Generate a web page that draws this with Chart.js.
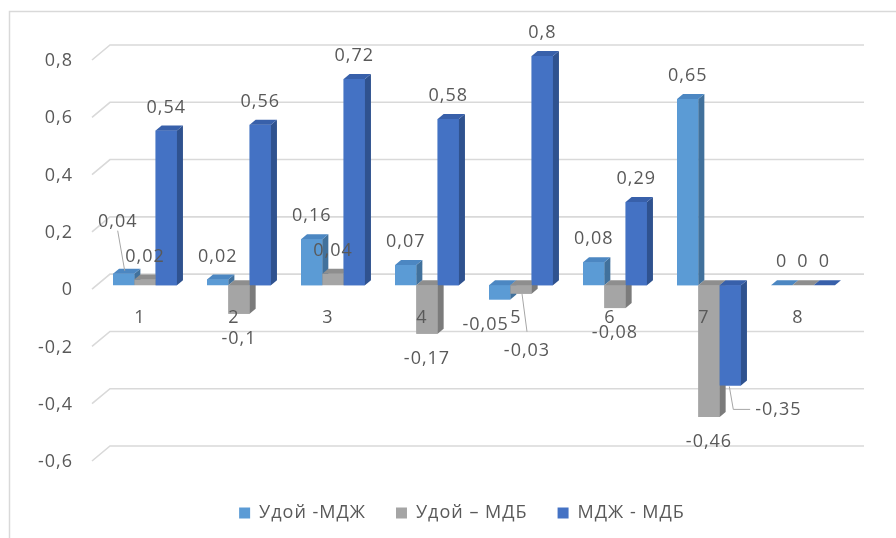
<!DOCTYPE html>
<html>
<head>
<meta charset="utf-8">
<script src="https://cdn.jsdelivr.net/npm/chart.js@4.4.1/dist/chart.umd.min.js"></script>
<style>
  html, body { margin: 0; padding: 0; background: #ffffff; }
  canvas { display: block; }
</style>
</head>
<body>
<canvas id="chart" width="896" height="538"></canvas>
<script>
// Categories and series values
const categories = ['1', '2', '3', '4', '5', '6', '7', '8'];
const udoiMdzh = [0.04, 0.02, 0.16, 0.07, -0.05, 0.08, 0.65, 0];
const udoiMdb  = [0.02, -0.1, 0.04, -0.17, -0.03, -0.08, -0.46, 0];
const mdzhMdb  = [0.54, 0.56, 0.72, 0.58, 0.8, 0.29, -0.35, 0];
const seriesNames = ['Удой -МДЖ', 'Удой – МДБ', 'МДЖ - МДБ'];

// Value axis range
const yMin = -0.6;
const yMax = 0.8;
const yStep = 0.2;

// Appearance
const FONT = 'Open Sans';
const TEXT = '#595959';
const GRID = '#D9D9D9';
const FRONT = ['#5B9BD5', '#A5A5A5', '#4472C4'];
const SIDE  = ['#41719C', '#7B7B7B', '#2F528F'];
const TOPC  = ['#4C87C2', '#8E8E8E', '#3860AA'];
const DX = 6, DY = 5;   // extrusion depth of the bars
const LEGEND_SHIFT = 37;

// Data labels that sit away from their bar, keyed "dataset:index"
const labelTweaks = {
  '0:0': { dx: -6, dy: -29, leader: 'straight' },
  '0:4': { dx: -14, dy: 0 },
  '1:4': { dx: 6, dy: 32, leader: 'straight' },
  '2:6': { dx: 48, dy: -1, leader: 'elbow' }
};

const fmt = v => {
  const r = Math.round(v * 100) / 100;
  return r === 0 ? '0' : String(r).replace('.', ',');
};

const textSpacing = {
  id: 'textSpacing',
  beforeLayout(chart) { chart.ctx.letterSpacing = '1px'; },
  afterLayout(chart) {
    // centre the legend under the plot rather than under the whole canvas
    const lg = chart.legend;
    if (lg) { lg.left += LEGEND_SHIFT; lg.right += LEGEND_SHIFT; }
  },
  beforeDraw(chart) { chart.ctx.letterSpacing = '1px'; }
};

const frame = {
  id: 'frame',
  beforeDraw(chart) {
    const ctx = chart.ctx;
    ctx.save();
    ctx.strokeStyle = GRID;
    ctx.lineWidth = 1.5;
    ctx.strokeRect(9.5, 11.5, 1200, 1200);
    ctx.restore();
  }
};

// Back-wall gridlines with a slanted lead-in on the left
const wallGrid = {
  id: 'wallGrid',
  beforeDatasetsDraw(chart) {
    const ctx = chart.ctx, ys = chart.scales.y, ca = chart.chartArea;
    ctx.save();
    ctx.strokeStyle = GRID;
    ctx.lineWidth = 1.6;
    ys.ticks.forEach(t => {
      const y = ys.getPixelForValue(t.value);
      ctx.beginPath();
      ctx.moveTo(ca.left - 6, y + 4);
      ctx.lineTo(ca.left + 12, y - 11);
      ctx.lineTo(ca.right + 14, y - 11);
      ctx.stroke();
    });
    ctx.restore();
  }
};

// Paint the bars left to right within each group: front face, then side and top
const extrude = {
  id: 'extrude',
  afterDatasetsDraw(chart) {
    const ctx = chart.ctx;
    chart.data.datasets.forEach((ds, i) => {
      const meta = chart.getDatasetMeta(i);
      meta.data.forEach(bar => {
        bar.draw(ctx);
        const p = bar.getProps(['x', 'y', 'base', 'width'], true);
        const l = p.x - p.width / 2, r = p.x + p.width / 2;
        const top = Math.min(p.y, p.base), bottom = Math.max(p.y, p.base);
        ctx.save();
        ctx.fillStyle = SIDE[i];
        ctx.beginPath();
        ctx.moveTo(r, top);
        ctx.lineTo(r + DX, top - DY);
        ctx.lineTo(r + DX, bottom - DY);
        ctx.lineTo(r, bottom);
        ctx.closePath();
        ctx.fill();
        ctx.fillStyle = TOPC[i];
        ctx.beginPath();
        ctx.moveTo(l, top);
        ctx.lineTo(l + DX, top - DY);
        ctx.lineTo(r + DX, top - DY);
        ctx.lineTo(r, top);
        ctx.closePath();
        ctx.fill();
        ctx.restore();
      });
    });
  }
};

// Category names near the zero plane and value labels on the bars
const annotations = {
  id: 'annotations',
  afterDatasetsDraw(chart) {
    const ctx = chart.ctx, xs = chart.scales.x, ys = chart.scales.y;
    const y0 = ys.getPixelForValue(0);
    ctx.save();
    ctx.font = '18px "' + FONT + '"';
    ctx.fillStyle = TEXT;
    ctx.textAlign = 'center';
    ctx.textBaseline = 'middle';
    categories.forEach((c, k) => {
      ctx.fillText(c, xs.getPixelForValue(k) - 5, y0 + 33);
    });

    chart.data.datasets.forEach((ds, i) => {
      const meta = chart.getDatasetMeta(i);
      meta.data.forEach((bar, k) => {
        const v = ds.data[k];
        const p = bar.getProps(['x', 'y', 'base'], true);
        const tw = labelTweaks[i + ':' + k] || { dx: 0, dy: 0 };
        const lx = p.x + tw.dx;
        const ly = (v >= 0 ? p.y - 23 : p.y + 25) + tw.dy;
        if (tw.leader) {
          ctx.save();
          ctx.strokeStyle = '#A6A6A6';
          ctx.lineWidth = 1;
          ctx.beginPath();
          if (tw.leader === 'straight') {
            if (v >= 0) {
              ctx.moveTo(lx, ly + 9);
              ctx.lineTo(p.x + 1, p.y - 3);
            } else {
              ctx.moveTo(p.x + 1, p.y);
              ctx.lineTo(lx, ly - 19);
            }
          } else {
            const w = ctx.measureText(fmt(v)).width;
            ctx.moveTo(p.x - 1, p.y + 1);
            ctx.lineTo(p.x + 3, ly);
            ctx.lineTo(lx - w / 2 - 5, ly);
          }
          ctx.stroke();
          ctx.restore();
        }
        ctx.fillText(fmt(v), lx, ly);
      });
    });
    ctx.restore();
  }
};

const seriesData = [udoiMdzh, udoiMdb, mdzhMdb];

new Chart(document.getElementById('chart'), {
  type: 'bar',
  data: {
    labels: categories,
    datasets: seriesData.map((d, i) => ({
      label: seriesNames[i],
      data: d,
      backgroundColor: FRONT[i],
      borderWidth: 0,
      categoryPercentage: 0.68,
      barPercentage: 1
    }))
  },
  options: {
    responsive: false,
    animation: false,
    devicePixelRatio: 1,
    layout: { padding: { top: 56, right: 46, left: 0, bottom: 6 } },
    plugins: {
      tooltip: { enabled: false },
      legend: {
        position: 'bottom',
        labels: {
          boxWidth: 11,
          boxHeight: 11,
          padding: 30,
          color: TEXT,
          font: { family: FONT, size: 18 }
        }
      }
    },
    scales: {
      x: {
        display: true,
        grid: { display: false, drawTicks: false },
        border: { display: false },
        ticks: { display: false },
        afterFit: s => { s.height = 17; }
      },
      y: {
        min: yMin,
        max: yMax,
        grid: { display: false, drawTicks: false },
        border: { display: false },
        ticks: {
          stepSize: yStep,
          padding: 25,
          labelOffset: 5,
          color: TEXT,
          font: { family: FONT, size: 18 },
          callback: v => fmt(v)
        },
        afterFit: s => { s.width = 98; }
      }
    }
  },
  plugins: [textSpacing, frame, wallGrid, extrude, annotations]
});
</script>
</body>
</html>
